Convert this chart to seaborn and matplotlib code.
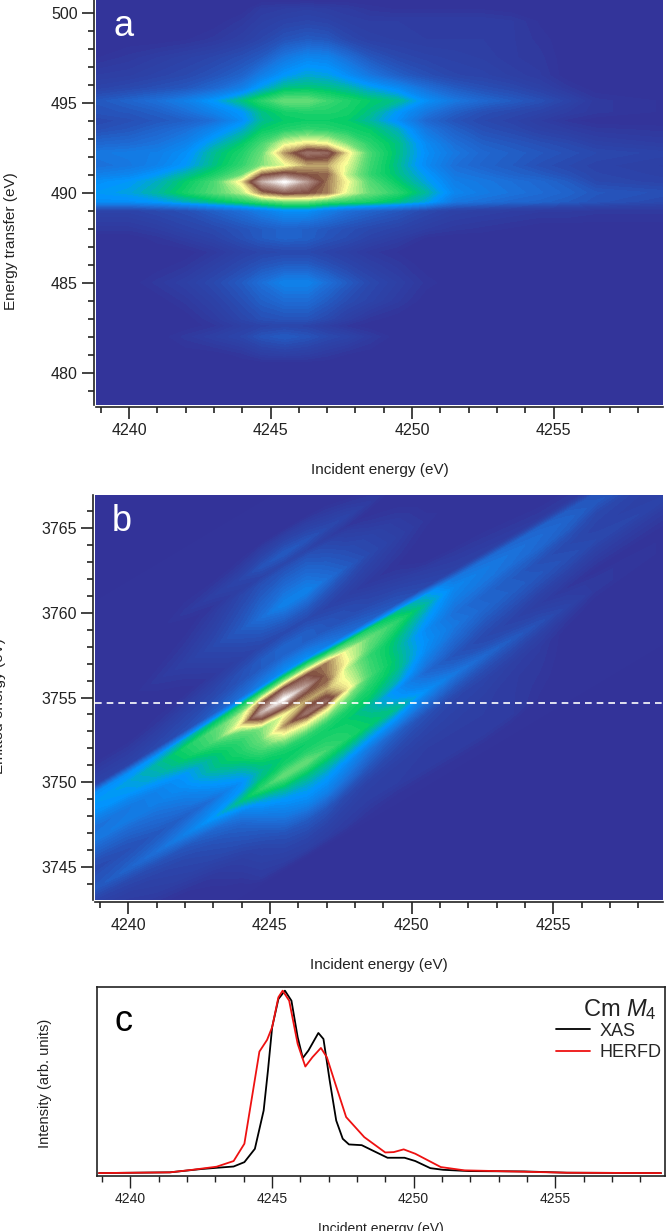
"""
plot.py
-------
Cm M4 RIXS maps (energy transfer and emitted energy) with XAS / HERFD cuts.
Output: out.png
"""

import numpy as np
import pandas as pd
import matplotlib
matplotlib.use("Agg")
import matplotlib.pyplot as plt
from matplotlib.colors import LinearSegmentedColormap
from matplotlib.ticker import MultipleLocator
import seaborn as sns

W, H = 666, 1231

# map grid (intensity 0-100)
incident = [4238.8, 4240, 4241, 4242, 4243, 4244, 4244.7, 4245.5, 4246.3, 4247, 4247.7,
            4248.5, 4249.5, 4250.5, 4251.5, 4252.5, 4253.5, 4254.5, 4255.5, 4256.5, 4258.9]
transfer = [478.2, 480.5, 481, 482, 482.6, 483, 484, 485, 486, 486.7, 487.5, 488, 489,
            489.5, 490, 490.6, 491, 491.5, 492.2, 492.7, 493.5, 494, 494.5, 495.1,
            495.8, 496.5, 497.5, 498.5, 499.5, 500.2, 500.7]
intensity = [
    [0, 0, 0, 0, 0, 0, 0, 0, 0, 0, 0, 0, 0, 0, 0, 0, 0, 0, 0, 0, 0],
    [0, 0, 0, 0, 0, 0, 0, 0, 0, 0, 0, 0, 0, 0, 0, 0, 0, 0, 0, 0, 0],
    [0, 0, 0, 0, 0, 2, 5, 6, 5, 3, 1, 0, 0, 0, 0, 0, 0, 0, 0, 0, 0],
    [0, 0, 0, 3, 6, 9, 13, 15, 13, 10, 8, 4, 0, 0, 0, 0, 0, 0, 0, 0, 0],
    [0, 0, 0, 0, 2, 6, 8, 9, 8, 5, 2, 0, 0, 0, 0, 0, 0, 0, 0, 0, 0],
    [0, 0, 0, 0, 4, 9, 12, 13, 13, 10, 6, 2, 0, 0, 0, 0, 0, 0, 0, 0, 0],
    [0, 0, 0, 3, 7, 12, 16, 19, 19, 15, 11, 8, 4, 0, 0, 0, 0, 0, 0, 0, 0],
    [0, 0, 3, 6, 10, 15, 20, 25, 25, 20, 15, 10, 6, 2, 0, 0, 0, 0, 0, 0, 0],
    [0, 0, 0, 2, 6, 10, 13, 15, 15, 12, 9, 6, 3, 0, 0, 0, 0, 0, 0, 0, 0],
    [0, 0, 0, 0, 3, 7, 9, 10, 10, 8, 6, 3, 1, 0, 0, 0, 0, 0, 0, 0, 0],
    [0, 0, 2, 5, 8, 12, 15, 17, 16, 13, 11, 8, 5, 1, 0, 0, 0, 0, 0, 0, 0],
    [3, 3, 5, 8, 10, 13, 15, 17, 16, 14, 12, 10, 8, 5, 3, 2, 1, 0, 0, 0, 0],
    [8, 8, 10, 12, 16, 20, 24, 28, 28, 24, 20, 17, 14, 10, 7, 6, 5, 4, 4, 3, 3],
    [28, 28, 30, 34, 38, 42, 46, 50, 50, 46, 44, 42, 38, 32, 22, 20, 18, 17, 15, 13, 10],
    [30, 32, 36, 42, 48, 55, 70, 76, 74, 70, 58, 50, 44, 36, 26, 23, 21, 19, 17, 14, 12],
    [28, 30, 34, 40, 47, 62, 88, 100, 85, 70, 60, 48, 40, 32, 24, 22, 20, 18, 15, 10, 8],
    [24, 26, 30, 36, 42, 50, 72, 78, 73, 72, 56, 45, 38, 30, 22, 20, 17, 15, 12, 9, 7],
    [20, 22, 25, 30, 38, 45, 52, 58, 66, 66, 58, 46, 37, 27, 20, 17, 15, 12, 10, 8, 6],
    [22, 23, 24, 28, 37, 43, 50, 68, 80, 78, 62, 47, 38, 28, 22, 18, 16, 14, 12, 10, 8],
    [18, 19, 21, 25, 33, 40, 47, 58, 62, 60, 52, 44, 38, 27, 20, 16, 14, 12, 10, 7, 5],
    [12, 14, 17, 20, 26, 33, 40, 43, 45, 44, 42, 40, 34, 22, 16, 12, 10, 7, 5, 3, 2],
    [10, 12, 14, 16, 20, 28, 37, 40, 41, 41, 40, 36, 28, 18, 13, 10, 8, 5, 2, 0, 0],
    [13, 14, 16, 20, 25, 30, 38, 42, 43, 43, 42, 38, 30, 22, 16, 12, 10, 8, 5, 3, 1],
    [14, 17, 20, 24, 30, 38, 44, 50, 50, 46, 43, 40, 37, 28, 22, 18, 15, 12, 8, 3, 1],
    [8, 10, 12, 14, 18, 24, 32, 38, 39, 38, 36, 32, 27, 20, 15, 12, 10, 7, 3, 0, 0],
    [5, 6, 8, 10, 13, 17, 24, 30, 33, 32, 28, 22, 16, 12, 9, 8, 6, 4, 0, 0, 0],
    [1, 3, 5, 7, 9, 12, 15, 22, 26, 25, 20, 14, 10, 8, 7, 6, 4, 3, 0, 0, 0],
    [0, 0, 0, 1, 3, 6, 9, 13, 15, 14, 10, 7, 6, 5, 5, 5, 4, 2, 0, 0, 0],
    [0, 0, 0, 0, 0, 3, 6, 8, 9, 8, 6, 5, 5, 5, 5, 5, 4, 1, 0, 0, 0],
    [0, 0, 0, 0, 0, 0, 4, 5, 6, 5, 4, 2, 1, 1, 1, 1, 0, 0, 0, 0, 0],
    [0, 0, 0, 0, 0, 0, 0, 0, 0, 0, 0, 0, 0, 0, 0, 0, 0, 0, 0, 0, 0],
]

# cuts for panel c
xas_energy = [4238.9, 4241.4, 4242.5, 4243.05, 4243.65, 4244.03, 4244.4, 4244.71, 4244.86,
              4245.01, 4245.23, 4245.46, 4245.69, 4245.91, 4246.09, 4246.29, 4246.64,
              4246.82, 4247.04, 4247.27, 4247.5, 4247.72, 4248.17, 4248.55, 4249.08,
              4249.68, 4250.06, 4250.59, 4251.04, 4251.95, 4253.91, 4255.41, 4258.73]
xas_value = [0, 0.004, 0.022, 0.029, 0.036, 0.06, 0.133, 0.343, 0.56, 0.80, 0.954, 1.0,
             0.945, 0.745, 0.631, 0.672, 0.768, 0.735, 0.507, 0.288, 0.188, 0.157, 0.153,
             0.124, 0.084, 0.084, 0.066, 0.027, 0.018, 0.011, 0.009, 0.002, 0]
herfd_energy = [4238.9, 4241.4, 4242.2, 4243.05, 4243.65, 4244.03, 4244.26, 4244.56, 4244.83,
                4245.01, 4245.23, 4245.38, 4245.61, 4245.91, 4246.18, 4246.43, 4246.73,
                4246.94, 4247.24, 4247.62, 4248.26, 4249.0, 4249.3, 4249.65, 4250.06,
                4250.96, 4251.79, 4253.45, 4255.41, 4258.73]
herfd_value = [0, 0.004, 0.018, 0.035, 0.066, 0.161, 0.38, 0.666, 0.73, 0.80, 0.964, 1.0,
               0.945, 0.708, 0.584, 0.635, 0.686, 0.635, 0.489, 0.307, 0.197, 0.113, 0.115,
               0.13, 0.106, 0.033, 0.015, 0.009, 0.002, 0]

ticks_x = [4240, 4245, 4250, 4255]
ticks_a = [480, 485, 490, 495, 500]
ticks_b = [3745, 3750, 3755, 3760, 3765]
cut_level = 3754.7

terrain = LinearSegmentedColormap.from_list("terrain_map", [
    (0.00, "#333399"), (0.10, "#2a48ad"), (0.20, "#1c6fd8"), (0.30, "#0096ff"),
    (0.40, "#00cc66"), (0.50, "#66dd77"), (0.60, "#ffff99"), (0.74, "#7f4c40"),
    (0.86, "#b89a92"), (1.00, "#ffffff"),
])
levels = np.linspace(0, 100, 81)

INK = "#222222"


def make_axes(fig, left, right, top, bottom):
    return fig.add_axes([left / W, 1 - bottom / H, (right - left) / W, (bottom - top) / H])


def style_map(ax, yticks, xlim, ylim):
    ax.set_xlim(xlim)
    ax.set_ylim(ylim)
    ax.set_facecolor("#333399")
    for side in ["top", "right"]:
        ax.spines[side].set_visible(False)
    for side in ["left", "bottom"]:
        ax.spines[side].set_position(("outward", 1.6))
        ax.spines[side].set_linewidth(1.2)
        ax.spines[side].set_color(INK)
    ax.set_xticks(ticks_x)
    ax.set_yticks(yticks)
    ax.xaxis.set_minor_locator(MultipleLocator(1))
    ax.yaxis.set_minor_locator(MultipleLocator(1))
    ax.tick_params(which="major", length=8.6, width=1.2, color=INK, labelsize=11.5, labelcolor=INK, pad=3)
    ax.tick_params(which="minor", length=4.3, width=1.2, color=INK)


def main():
    sns.set_style("ticks")
    plt.rcParams["font.family"] = ["Liberation Sans", "DejaVu Sans"]
    plt.rcParams["mathtext.fontset"] = "custom"
    plt.rcParams["mathtext.rm"] = "Liberation Sans"
    plt.rcParams["mathtext.it"] = "Liberation Sans:italic"

    fig = plt.figure(figsize=(W / 100, H / 100), dpi=100)

    inc = np.array(incident)
    tra = np.array(transfer)
    vals = np.array(intensity, dtype=float)
    grid_x, grid_t = np.meshgrid(inc, tra)

    # panel a
    ax_a = make_axes(fig, 96, 663, 0, 405)
    ax_a.contourf(inc, tra, vals, levels=levels, cmap=terrain, vmin=0, vmax=100)
    style_map(ax_a, ticks_a, (4238.83, 4258.87), (478.2, 500.7))
    ax_a.set_xlabel("Incident energy (eV)", fontsize=11, color=INK)
    ax_a.xaxis.set_label_coords(0.5, -58 / 405)
    ax_a.set_ylabel("Energy transfer (eV)", fontsize=11, color=INK)
    ax_a.yaxis.set_label_coords(-78 / 567, 0.405)
    ax_a.text(113, 28, "a", transform=None, alpha=0)  # keeps pixel check simple
    ax_a.text(0.03, 0.935, "a", transform=ax_a.transAxes, color="white", fontsize=26, va="center")

    # panel b: same plane, emitted = incident - transfer
    ax_b = make_axes(fig, 95, 663, 495, 900)
    ax_b.contourf(grid_x, grid_x - grid_t, vals, levels=levels, cmap=terrain, vmin=0, vmax=100)
    ax_b.axhline(cut_level, color="white", lw=1.2, ls=(0, (4, 3)))
    style_map(ax_b, ticks_b, (4238.83, 4258.87), (3743.05, 3766.95))
    ax_b.set_xlabel("Incident energy (eV)", fontsize=11, color=INK)
    ax_b.xaxis.set_label_coords(0.5, -58 / 405)
    ax_b.set_ylabel("Emitted energy (eV)", fontsize=11, color=INK)
    ax_b.yaxis.set_label_coords(-89 / 568, 0.48)
    ax_b.text(0.03, 0.935, "b", transform=ax_b.transAxes, color="white", fontsize=26, va="center")

    # panel c
    ax_c = make_axes(fig, 97, 665, 987, 1176)
    xas = pd.DataFrame({"energy": xas_energy, "value": xas_value})
    herfd = pd.DataFrame({"energy": herfd_energy, "value": herfd_value})
    sns.lineplot(data=xas, x="energy", y="value", color="black", lw=1.3, ax=ax_c, label="XAS")
    sns.lineplot(data=herfd, x="energy", y="value", color="#ee1111", lw=1.3, ax=ax_c, label="HERFD")
    ax_c.set_xlim(4238.83, 4258.87)
    ax_c.set_ylim(-0.016, 1.02)
    ax_c.set_xticks(ticks_x)
    ax_c.set_yticks([])
    ax_c.xaxis.set_minor_locator(MultipleLocator(1))
    for spine in ax_c.spines.values():
        spine.set_linewidth(1.2)
        spine.set_color(INK)
    ax_c.tick_params(which="major", length=8.6, width=1.0, color=INK, labelsize=10, labelcolor=INK, pad=3)
    ax_c.tick_params(which="minor", length=4.3, width=1.0, color=INK)
    ax_c.set_xlabel("Incident energy (eV)", fontsize=10, color=INK)
    ax_c.xaxis.set_label_coords(0.5, -46 / 189)
    ax_c.set_ylabel("Intensity (arb. units)", fontsize=10.5, color=INK)
    ax_c.yaxis.set_label_coords(-45 / 568, 0.49)
    ax_c.text(0.03, 0.82, "c", transform=ax_c.transAxes, color="black", fontsize=26, va="center")
    ax_c.text(0.985, 0.88, r"Cm $\mathit{M_4}$", transform=ax_c.transAxes, ha="right", va="center",
              fontsize=17, color=INK)
    ax_c.legend(loc="upper right", bbox_to_anchor=(1.0, 0.83), frameon=False, fontsize=13,
                handlelength=1.9, handletextpad=0.5, labelspacing=0.25, borderaxespad=0, borderpad=0.2)

    fig.savefig("out.png", dpi=100)
    plt.close(fig)


if __name__ == "__main__":
    main()
